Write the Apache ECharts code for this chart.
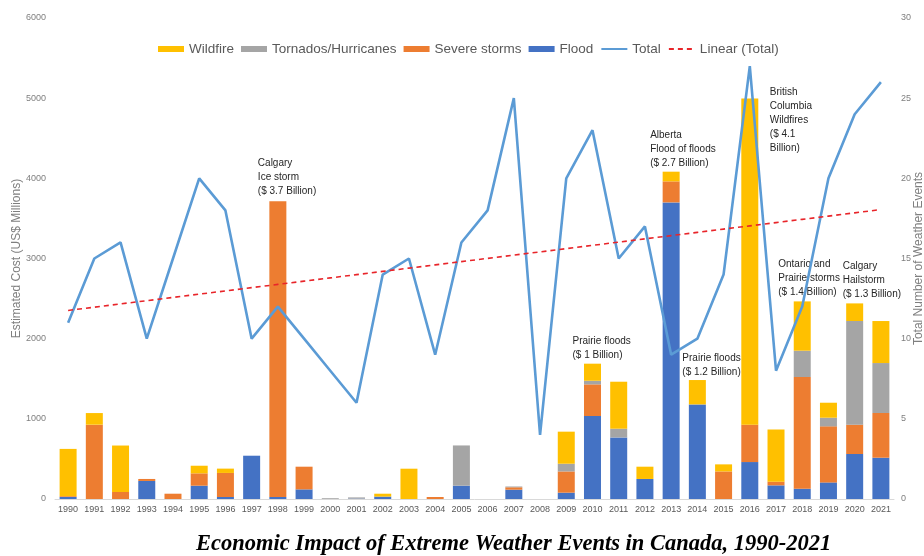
<!DOCTYPE html>
<html>
<head>
<meta charset="utf-8">
<script src="https://cdn.jsdelivr.net/npm/echarts@6/dist/echarts.min.js"></script>
<style>
  html, body { margin: 0; padding: 0; background: #ffffff; }
  #chart { width: 924px; height: 556px; }
</style>
</head>
<body>
<div id="chart"></div>
<script>
// Economic impact of extreme weather events in Canada, 1990-2021
const years = ['1990','1991','1992','1993','1994','1995','1996','1997','1998','1999',
               '2000','2001','2002','2003','2004','2005','2006','2007','2008','2009',
               '2010','2011','2012','2013','2014','2015','2016','2017','2018','2019',
               '2020','2021'];

// Estimated cost (US$ millions) by event type
const flood =     [25,   0,   0, 225,  0, 166,  25, 540,   25, 120,
                    0,   5,  30,   0,  0, 166,   0, 116,    0,  79,
                 1035, 768, 250,3700,1180,  0, 461, 170,  128, 207,
                  561, 515];
const severe =    [10, 927,  87,  25, 66, 154, 300,   0, 3690, 283,
                    0,   0,   0,   0, 25,   0,   0,  30,    0, 265,
                  395,   0,   0, 262,   0, 344, 466,  46, 1394, 699,
                  366, 558];
const tornado =   [ 0,   0,   0,   0,  0,   0,   0,   0,    0,   0,
                   10,  15,   0,   0,  0, 502,   0,  10,    0,  96,
                   45, 109,   0,   0,   0,   0,   0,   0,  328, 108,
                 1293, 623];
const wildfire = [590, 145, 580,   0,  0,  95,  54,   0,    0,   0,
                    0,   0,  36, 378,  0,   0,   0,   0,    0, 400,
                  213, 586, 153, 121, 304,  88,4070, 652,  615, 187,
                  220, 524];

// Total number of weather events per year
const totalEvents = [11,15,16,10,15,20,18,10,12,10,
                      8, 6,14,15, 9,16,18,25, 4,20,
                     23,15,17, 9,10,14,27, 8,12,20,
                     24,26];

// Notable events written above their bars
const notes = [
  { year: '1998', text: 'Calgary\nIce storm\n($ 3.7 Billion)' },
  { year: '2010', text: 'Prairie floods\n($ 1 Billion)' },
  { year: '2013', text: 'Alberta\nFlood of floods\n($ 2.7 Billion)' },
  { year: '2014', text: 'Prairie floods\n($ 1.2 Billion)' },
  { year: '2016', text: 'British\nColumbia\nWildfires\n($ 4.1\nBillion)' },
  { year: '2018', text: 'Ontario and\nPrairie storms\n($ 1.4 Billion)' },
  { year: '2020', text: 'Calgary\nHailstorm\n($ 1.3 Billion)' }
];

// Label placement relative to each bar's top (pixels)
const notePlacement = {
  '1998': { offset: [-20, -3], verticalAlign: 'bottom' },
  '2010': { offset: [-20, -1], verticalAlign: 'bottom' },
  '2013': { offset: [-21, -1], verticalAlign: 'bottom' },
  '2014': { offset: [-15, -1], verticalAlign: 'bottom' },
  '2016': { offset: [20, -13], verticalAlign: 'top' },
  '2018': { offset: [-24, -2], verticalAlign: 'bottom' },
  '2020': { offset: [-12, -2], verticalAlign: 'bottom' }
};

const stackTotal = years.map((_, i) => flood[i] + severe[i] + tornado[i] + wildfire[i]);

// Least-squares trend line of the event counts
function linearTrend(values) {
  const n = values.length;
  let sx = 0, sy = 0, sxy = 0, sxx = 0;
  values.forEach((v, i) => { const x = i + 1; sx += x; sy += v; sxy += x * v; sxx += x * x; });
  const slope = (n * sxy - sx * sy) / (n * sxx - sx * sx);
  const intercept = (sy - slope * sx) / n;
  return values.map((_, i) => +(intercept + slope * (i + 1)).toFixed(3));
}
const trend = linearTrend(totalEvents);

const FONT = 'Liberation Sans, Arial, sans-serif';
const chart = echarts.init(document.getElementById('chart'), null, { renderer: 'canvas' });

const barSeries = (name, data, color) => ({
  name, type: 'bar', stack: 'cost', data,
  barWidth: 17,
  itemStyle: { color },
  emphasis: { disabled: true }
});

const wildfireSeries = barSeries('Wildfire', wildfire, '#FFC000');
wildfireSeries.markPoint = {
  symbol: 'circle',
  symbolSize: 0,
  silent: true,
  data: notes.map(n => {
    const i = years.indexOf(n.year);
    const p = notePlacement[n.year];
    return {
      coord: [n.year, stackTotal[i]],
      label: {
        show: true,
        formatter: n.text,
        position: [0, 0],
        align: 'left',
        verticalAlign: p.verticalAlign,
        offset: p.offset,
        color: '#262626',
        fontFamily: FONT,
        fontSize: 10,
        lineHeight: 14
      }
    };
  })
};

const option = {
  backgroundColor: '#ffffff',
  animation: false,
  textStyle: { fontFamily: FONT },
  title: {
    text: 'Economic Impact of Extreme Weather Events in Canada, 1990-2021',
    left: 196,
    top: 533,
    padding: 0,
    textStyle: {
      fontFamily: 'Liberation Serif, Times New Roman, serif',
      fontStyle: 'italic',
      fontWeight: 'bold',
      fontSize: 22.5,
      color: '#000000'
    }
  },
  legend: {
    left: 153,
    top: 37,
    itemWidth: 26,
    itemHeight: 6,
    itemGap: 7,
    textStyle: { fontFamily: FONT, fontSize: 13.5, color: '#595959' },
    data: [
      { name: 'Wildfire', icon: 'rect' },
      { name: 'Tornados/Hurricanes', icon: 'rect' },
      { name: 'Severe storms', icon: 'rect' },
      { name: 'Flood', icon: 'rect' },
      { name: 'Total', itemStyle: { opacity: 0 } },
      { name: 'Linear (Total)', itemStyle: { opacity: 0 } }
    ]
  },
  grid: { left: 55, right: 30, top: 18, bottom: 57, outerBoundsMode: 'none', containLabel: false },
  xAxis: {
    type: 'category',
    data: years,
    axisLine: { lineStyle: { color: '#D9D9D9', width: 1 } },
    axisTick: { show: false },
    axisLabel: { fontSize: 9, color: '#595959', margin: 6, interval: 0 }
  },
  yAxis: [
    {
      type: 'value', min: 0, max: 6000, interval: 1000,
      name: 'Estimated Cost (US$ Millions)',
      nameLocation: 'middle', nameRotate: 90, nameGap: 32, nameMoveOverlap: false,
      nameTextStyle: { fontSize: 12, color: '#7F7F7F' },
      axisLine: { show: false }, axisTick: { show: false },
      splitLine: { show: false },
      axisLabel: { fontSize: 9, color: '#7F7F7F', margin: 9, formatter: v => String(v) }
    },
    {
      type: 'value', min: 0, max: 30, interval: 5,
      position: 'right',
      name: 'Total Number of Weather Events',
      nameLocation: 'middle', nameRotate: 90, nameGap: 19, nameMoveOverlap: false,
      nameTextStyle: { fontSize: 12, color: '#7F7F7F' },
      axisLine: { show: false }, axisTick: { show: false },
      splitLine: { show: false },
      axisLabel: { fontSize: 9, color: '#7F7F7F', margin: 7, formatter: v => String(v) }
    }
  ],
  series: [
    barSeries('Flood', flood, '#4472C4'),
    barSeries('Severe storms', severe, '#ED7D31'),
    barSeries('Tornados/Hurricanes', tornado, '#A5A5A5'),
    wildfireSeries,
    {
      name: 'Total', type: 'line', yAxisIndex: 1, data: totalEvents,
      symbol: 'none', smooth: false,
      lineStyle: { color: '#5B9BD5', width: 2.6 },
      itemStyle: { color: '#5B9BD5' },
      z: 5
    },
    {
      name: 'Linear (Total)', type: 'line', yAxisIndex: 1, data: trend,
      symbol: 'none',
      lineStyle: { color: '#E8252A', width: 1.6, type: [5, 4] },
      itemStyle: { color: '#E8252A' },
      z: 6
    }
  ]
};

chart.setOption(option);
</script>
</body>
</html>
